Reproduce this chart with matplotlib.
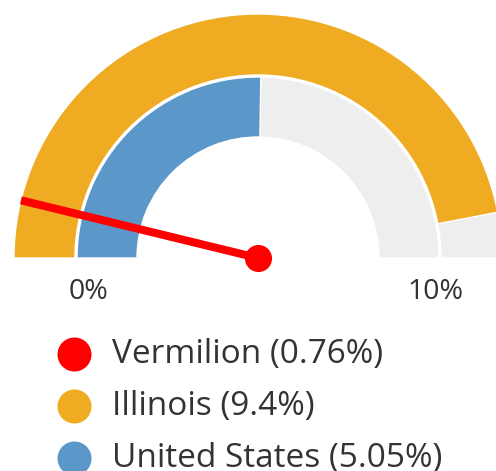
import numpy as np
import matplotlib.pyplot as plt
from matplotlib.patches import Wedge

# gauge scale (percent)
scale_min = 0
scale_max = 10
tick_labels = ["0%", "10%"]

# series
names = ["Vermilion", "Illinois", "United States"]
values = [0.76, 9.4, 5.05]
colors = ["#ff0000", "#efab22", "#5b97c9"]
track = "#eeeeee"
text_col = "#333333"

plt.rcParams['font.family'] = ['Open Sans', 'DejaVu Sans']

W, H = 496, 471
fig = plt.figure(figsize=(W / 100, H / 100), dpi=100)
ax = fig.add_axes([0, 0, 1, 1])
ax.set_xlim(0, W)
ax.set_ylim(0, H)
ax.set_aspect('equal')
ax.axis('off')

cx, cy = 258, H - 258


def to_angle(v):
    frac = (v - scale_min) / (scale_max - scale_min)
    return 180 - 180 * frac


# rings: outer = Illinois, inner = United States
rings = [(names[1], values[1], colors[1], 244, 61), (names[2], values[2], colors[2], 181, 60)]
for name, v, c, r, w in rings:
    ax.add_patch(Wedge((cx, cy), r, 0, 180, width=w, facecolor=track, edgecolor='white', lw=1))
    ax.add_patch(Wedge((cx, cy), r, to_angle(v), 180, width=w, facecolor=c, edgecolor='white', lw=1))

# needle for Vermilion
a = np.radians(to_angle(values[0]))
ax.plot([cx, cx + 244 * np.cos(a)], [cy, cy + 244 * np.sin(a)], color=colors[0], lw=5.8, solid_capstyle='butt', zorder=5)
ax.scatter([cx], [cy], s=380, color=colors[0], zorder=6, linewidths=0)

# scale labels
ax.text(88, H - 292, tick_labels[0], ha='center', va='center', fontsize=20.5, color=text_col)
ax.text(435, H - 292, tick_labels[1], ha='center', va='center', fontsize=20.5, color=text_col)

# legend
for i, (n, v, c) in enumerate(zip(names, values, colors)):
    y = H - (354 + 52 * i)
    ax.scatter([74], [y], s=600, color=c, linewidths=0)
    ax.text(112, y, f"{n} ({v:g}%)", ha='left', va='center', fontsize=24, color=text_col)

fig.savefig("out.png", dpi=100)
